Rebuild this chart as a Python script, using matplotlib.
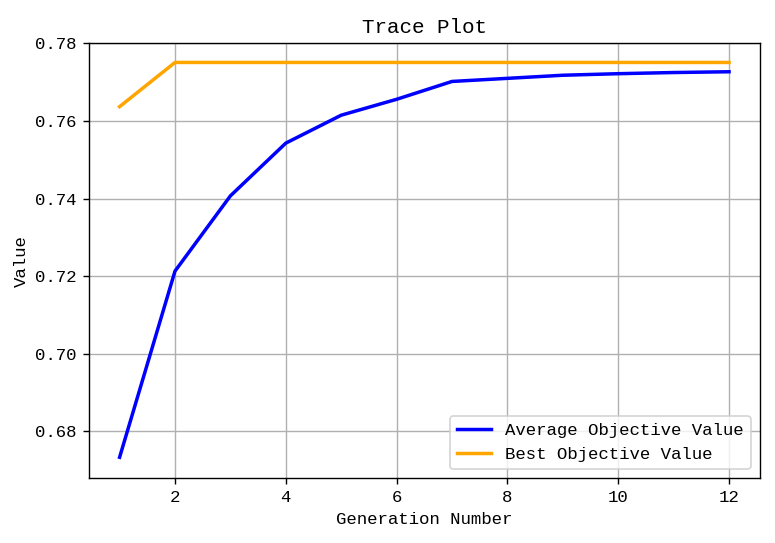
import matplotlib
matplotlib.use('Agg')
import matplotlib.pyplot as plt

plt.rcParams['font.family'] = ['Liberation Mono', 'DejaVu Sans Mono']

generations = list(range(1, 13))
avg_obj = [0.6733, 0.7213, 0.7407, 0.7543, 0.7615, 0.7656, 0.7702, 0.7710, 0.7718, 0.7722, 0.7725, 0.7727]
best_obj = [0.7637, 0.7751, 0.7751, 0.7751, 0.7751, 0.7751, 0.7751, 0.7751, 0.7751, 0.7751, 0.7751, 0.7751]

fig, ax = plt.subplots(figsize=(6.2, 4.344), dpi=125)
fig.subplots_adjust(left=0.115, right=0.98, top=0.92, bottom=0.12)
ax.plot(generations, avg_obj, color='blue', lw=2, label='Average Objective Value')
ax.plot(generations, best_obj, color='orange', lw=2, label='Best Objective Value')
ax.set_ylim(0.668, 0.78)
ax.set_xticks([2, 4, 6, 8, 10, 12])
ax.grid(True)
ax.set_title('Trace Plot')
ax.set_xlabel('Generation Number')
ax.set_ylabel('Value')
ax.legend(loc='lower right')
fig.savefig('out.png')
